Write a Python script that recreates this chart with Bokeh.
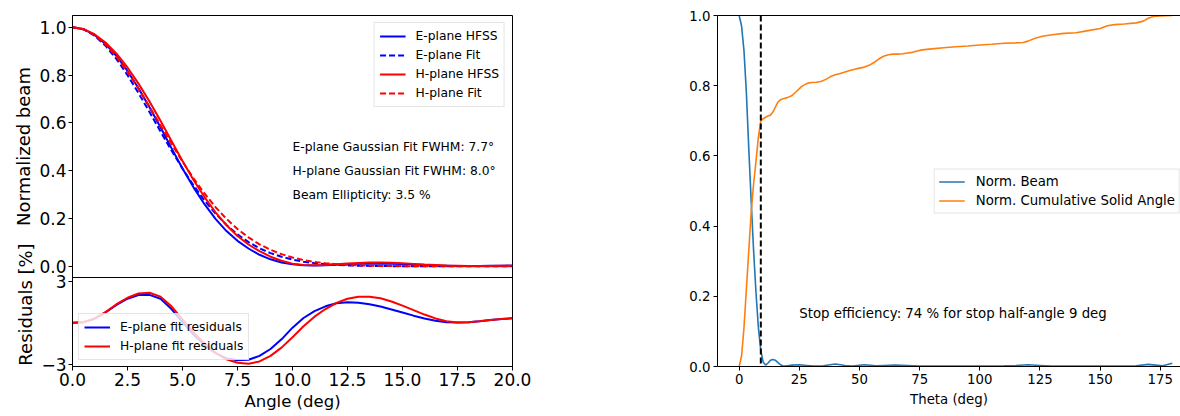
import math
from bokeh.plotting import figure
from bokeh.layouts import row
from bokeh.models import (Range1d, Legend, LegendItem, Label, Span, FixedTicker,
                          PrintfTickFormatter, LinearAxis, CustomJSTickFormatter)
from bokeh.embed import file_html
from bokeh.resources import INLINE

# ---------------- data ----------------
angle = [0.0, 0.5, 1.0, 1.5, 2.0, 2.5, 3.0, 3.5, 4.0, 4.5, 5.0, 5.5, 6.0, 6.5, 7.0,
         7.5, 8.0, 8.5, 9.0, 9.5, 10.0, 10.5, 11.0, 11.5, 12.0, 12.5, 13.0, 13.5,
         14.0, 14.5, 15.0, 15.5, 16.0, 16.5, 17.0, 17.5, 18.0, 18.5, 19.0, 19.5, 20.0]

e_hfss = [1.0, 0.9916, 0.9678, 0.9301, 0.8796, 0.8170, 0.7447, 0.6653, 0.5814, 0.4943,
          0.4091, 0.3301, 0.2596, 0.1983, 0.1472, 0.1063, 0.0743, 0.048, 0.029, 0.016,
          0.008, 0.004, 0.003, 0.004, 0.006, 0.008, 0.010, 0.011, 0.011, 0.010, 0.009,
          0.007, 0.005, 0.003, 0.002, 0.001, 0.001, 0.001, 0.002, 0.002, 0.003]

e_fit = [1.0, 0.9911, 0.9648, 0.9226, 0.8666, 0.7995, 0.7245, 0.6450, 0.5639, 0.4843,
         0.4086, 0.3386, 0.2756, 0.2203, 0.1730, 0.1335, 0.1011, 0.0753, 0.0550, 0.0395,
         0.0279, 0.0193, 0.0131, 0.0088, 0.0058, 0.0037, 0.0024, 0.0015, 0.0009, 0.0006,
         0.0003, 0.0002, 0.0001, 0.0001, 0.0, 0.0, 0.0, 0.0, 0.0, 0.0, 0.0]

h_hfss = [1.0, 0.9923, 0.9705, 0.9362, 0.8897, 0.8316, 0.7641, 0.6889, 0.6084, 0.5242,
          0.4403, 0.3610, 0.2894, 0.2258, 0.1716, 0.1269, 0.0910, 0.063, 0.040, 0.023,
          0.011, 0.005, 0.004, 0.005, 0.008, 0.012, 0.014, 0.016, 0.016, 0.015, 0.013,
          0.010, 0.007, 0.005, 0.003, 0.002, 0.001, 0.001, 0.001, 0.002, 0.002]

h_fit = [1.0, 0.9918, 0.9675, 0.9284, 0.8762, 0.8134, 0.7428, 0.6671, 0.5894, 0.5122,
         0.4378, 0.3680, 0.3044, 0.2476, 0.1981, 0.1559, 0.1207, 0.0919, 0.0688, 0.0507,
         0.0367, 0.0262, 0.0184, 0.0127, 0.0086, 0.0057, 0.0038, 0.0024, 0.0015, 0.0010,
         0.0006, 0.0004, 0.0002, 0.0001, 0.0001, 0.0, 0.0, 0.0, 0.0, 0.0, 0.0]

e_res = [0.0, 0.05, 0.3, 0.75, 1.3, 1.75, 2.02, 2.03, 1.75, 1.0, 0.05, -0.85, -1.6, -2.2,
         -2.58, -2.72, -2.68, -2.4, -1.9, -1.2, -0.35, 0.35, 0.85, 1.2, 1.42, 1.49, 1.46,
         1.35, 1.18, 0.97, 0.75, 0.52, 0.32, 0.15, 0.05, 0.02, 0.05, 0.12, 0.2, 0.27, 0.33]

h_res = [0.0, 0.05, 0.3, 0.78, 1.35, 1.82, 2.13, 2.18, 1.9, 1.2, 0.25, -0.7, -1.5, -2.18,
         -2.65, -2.9, -2.97, -2.8, -2.4, -1.8, -1.05, -0.25, 0.45, 1.0, 1.45, 1.75, 1.9,
         1.9, 1.78, 1.55, 1.25, 0.92, 0.6, 0.32, 0.12, 0.03, 0.05, 0.12, 0.2, 0.27, 0.33]

theta_beam = [0, 1, 2, 3, 4, 5, 6, 7, 8, 9, 10, 11, 12, 13, 14, 15, 16, 17, 18, 19, 20,
              22, 25, 28, 31, 35, 40, 44, 47, 52, 57, 60, 65, 70, 75, 80, 90, 100, 110,
              115, 120, 125, 130, 140, 150, 160, 165, 170, 173, 176, 180]
norm_beam = [1.0, 0.97, 0.90, 0.78, 0.62, 0.47, 0.33, 0.21, 0.11, 0.045, 0.012, 0.004,
             0.01, 0.018, 0.02, 0.018, 0.012, 0.006, 0.002, 0.001, 0.002,
             0.004, 0.005, 0.003, 0.001, 0.002, 0.007, 0.003, 0.001, 0.005, 0.002,
             0.003, 0.004, 0.003, 0.001, 0.001, 0.001, 0.001, 0.002, 0.003, 0.005,
             0.003, 0.001, 0.001, 0.001, 0.001, 0.002, 0.006, 0.004, 0.002, 0.009]

theta_cum = [0, 1, 2, 3, 4, 5, 6, 7, 8, 9, 10, 11, 12, 13, 14, 15, 16, 17, 18, 19, 20,
             22, 24, 26, 28, 30, 32, 34, 36, 38, 40, 42, 44, 46, 48, 50, 52, 54, 56, 58,
             60, 62, 64, 66, 68, 70, 72, 74, 76, 80, 85, 90, 95, 100, 105, 110, 115,
             118, 120, 123, 126, 130, 135, 140, 145, 150, 153, 156, 160, 165, 168, 170,
             172, 175, 180]
norm_cum = [0.0, 0.03, 0.11, 0.22, 0.33, 0.44, 0.52, 0.585, 0.655, 0.70, 0.706, 0.71,
            0.714, 0.716, 0.725, 0.738, 0.752, 0.759, 0.762, 0.764, 0.766,
            0.772, 0.785, 0.798, 0.806, 0.809, 0.810, 0.812, 0.818, 0.826, 0.831,
            0.835, 0.839, 0.843, 0.847, 0.850, 0.853, 0.858, 0.866, 0.876, 0.884,
            0.888, 0.890, 0.890, 0.891, 0.893, 0.895, 0.899, 0.902,
            0.905, 0.908, 0.911, 0.913, 0.916, 0.918, 0.921, 0.922,
            0.923, 0.927, 0.935, 0.941, 0.945, 0.949, 0.951, 0.957, 0.963,
            0.971, 0.974, 0.976, 0.979, 0.984, 0.992, 0.997, 0.999, 1.0]

stop_angle = 9
beam_yticks = [0.0, 0.2, 0.4, 0.6, 0.8, 1.0]
res_yticks = [-3, 3]
angle_xticks = [0.0, 2.5, 5.0, 7.5, 10.0, 12.5, 15.0, 17.5, 20.0]
theta_xticks = [0, 25, 50, 75, 100, 125, 150, 175]
frac_yticks = [0.0, 0.2, 0.4, 0.6, 0.8, 1.0]

FONT = "DejaVu Sans"

# ---------------- layout constants ----------------
H = 416                              # canvas height of every figure
TOP, BOTTOM = 15, 50                 # shared frame borders (row aligns frames)
MAIN_PX, RES_PX = 262, 89            # pixel heights of the two stacked panels
beam_lo, beam_hi = -0.047, 1.049     # visible range of the beam panel
res_lo, res_hi = -3.17, 3.29         # visible range of the residual panel
full_lo = beam_lo - (beam_hi - beam_lo) * RES_PX / MAIN_PX
res_full_hi = res_hi + (res_hi - res_lo) * MAIN_PX / RES_PX


def res_to_beam(r):
    return full_lo + (r - res_lo) / (res_full_hi - res_lo) * (beam_hi - full_lo)


def style_axis(ax, size, label_size=None):
    ax.axis_line_color = "black"
    ax.axis_line_width = 1
    ax.major_tick_line_color = "black"
    ax.major_tick_out = 4
    ax.major_tick_in = 0
    ax.minor_tick_line_color = None
    ax.major_label_text_font = FONT
    ax.major_label_text_font_size = size
    ax.major_label_text_color = "black"
    ax.axis_label_text_font = FONT
    ax.axis_label_text_font_style = "normal"
    ax.axis_label_text_font_size = label_size or size
    ax.axis_label_text_color = "black"


def style_legend(lg, size):
    lg.label_text_font = FONT
    lg.label_text_font_size = size
    lg.label_text_color = "black"
    lg.glyph_width = 26
    lg.glyph_height = 16
    lg.label_height = 16
    lg.label_standoff = 10
    lg.spacing = 3
    lg.padding = 5
    lg.border_line_color = "#cccccc"
    lg.border_line_width = 1
    lg.background_fill_color = "white"
    lg.background_fill_alpha = 0.8


# ---------------- strip holding the two left y-axis titles ----------------
# y coordinates of this strip are pixels measured up from the canvas bottom
lab = figure(width=36, height=H, x_range=Range1d(0, 36),
             y_range=Range1d(BOTTOM, H - TOP),
             x_axis_location=None, y_axis_location=None, output_backend="svg",
             toolbar_location=None, min_border_left=0, min_border_right=0,
             min_border_top=TOP, min_border_bottom=BOTTOM)
lab.outline_line_color = None
lab.grid.visible = False
lab.add_layout(Label(x=23, y=H - 146, text="Normalized beam", angle=math.pi / 2,
                     text_font=FONT, text_font_size="18px", text_color="black",
                     text_align="center", text_baseline="middle"))
lab.add_layout(Label(x=25, y=H - 304, text="Residuals [%]", angle=math.pi / 2,
                     text_font=FONT, text_font_size="18px", text_color="black",
                     text_align="center", text_baseline="middle"))

# ---------------- left: beam + residual panels in one frame ----------------
p = figure(width=506, height=H, x_range=Range1d(0, 20),
           y_range=Range1d(full_lo, beam_hi),
           output_backend="svg", toolbar_location=None,
           min_border_left=35, min_border_right=30, min_border_top=TOP,
           min_border_bottom=BOTTOM)
p.extra_y_ranges = {"res": Range1d(res_lo, res_full_hi)}
p.grid.visible = False
p.outline_line_color = "black"
p.outline_line_alpha = 1.0

style_axis(p.xaxis[0], "17px", "16.5px")
p.xaxis.axis_label = "Angle (deg)"
p.xaxis.ticker = FixedTicker(ticks=angle_xticks)
p.xaxis.formatter = PrintfTickFormatter(format="%.1f")
p.xaxis.major_label_standoff = 2
p.xaxis.axis_label_standoff = 3

style_axis(p.yaxis[0], "17px")
p.yaxis.ticker = FixedTicker(ticks=beam_yticks + [res_to_beam(r) for r in res_yticks])
p.yaxis.formatter = CustomJSTickFormatter(
    args=dict(split=beam_lo, flo=full_lo, fhi=beam_hi, rlo=res_lo, rhi=res_full_hi),
    code="""
    if (tick > split) { return tick.toFixed(1); }
    const r = rlo + (tick - flo) / (fhi - flo) * (rhi - rlo);
    const n = Math.round(r);
    return (n < 0 ? "\\u2212" : "") + Math.abs(n);
    """)
p.yaxis.major_label_standoff = 2

# separator between the beam panel and the residual panel
p.add_layout(Span(location=beam_lo, dimension="width", line_color="black",
                  line_width=1))

r1 = p.line(angle, e_hfss, line_color="blue", line_width=2)
r2 = p.line(angle, e_fit, line_color="blue", line_width=2, line_dash="6 3")
r3 = p.line(angle, h_hfss, line_color="red", line_width=2)
r4 = p.line(angle, h_fit, line_color="red", line_width=2, line_dash="6 3")

q1 = p.line(angle, e_res, line_color="blue", line_width=2, y_range_name="res")
q2 = p.line(angle, h_res, line_color="red", line_width=2, y_range_name="res")

lg1 = Legend(items=[LegendItem(label="E-plane HFSS", renderers=[r1]),
                    LegendItem(label="E-plane Fit", renderers=[r2]),
                    LegendItem(label="H-plane HFSS", renderers=[r3]),
                    LegendItem(label="H-plane Fit", renderers=[r4])],
             location="top_right")
style_legend(lg1, "12.3px")
lg1.margin = 7
p.add_layout(lg1)

lg2 = Legend(items=[LegendItem(label="E-plane fit residuals", renderers=[q1]),
                    LegendItem(label="H-plane fit residuals", renderers=[q2])],
             location="bottom_left")
style_legend(lg2, "12.3px")
lg2.margin = 6
p.add_layout(lg2)

for yy, txt in [(0.5, "E-plane Gaussian Fit FWHM: 7.7°"),
                (0.4, "H-plane Gaussian Fit FWHM: 8.0°"),
                (0.3, "Beam Ellipticity: 3.5 %")]:
    p.add_layout(Label(x=10, y=yy, text=txt, text_font=FONT,
                       text_font_size="12.3px", text_color="black",
                       text_baseline="alphabetic", text_align="left"))

# ---------------- right: solid angle panel ----------------
p_r = figure(width=638, height=H, x_range=Range1d(-9, 183.4),
             y_range=Range1d(0, 1), output_backend="svg", toolbar_location=None,
             min_border_left=175, min_border_right=0, min_border_top=TOP,
             min_border_bottom=BOTTOM)
p_r.grid.visible = False
p_r.outline_line_color = None
style_axis(p_r.xaxis[0], "13.3px")
style_axis(p_r.yaxis[0], "13.3px")
p_r.xaxis.axis_label = "Theta (deg)"
p_r.xaxis.ticker = FixedTicker(ticks=theta_xticks)
p_r.xaxis.major_label_standoff = 3
p_r.xaxis.axis_label_standoff = 5
p_r.yaxis.ticker = FixedTicker(ticks=frac_yticks)
p_r.yaxis.formatter = PrintfTickFormatter(format="%.1f")
p_r.yaxis.major_label_standoff = 3

top_axis = LinearAxis(ticker=FixedTicker(ticks=[]), axis_line_color="black",
                      major_tick_out=0, major_tick_in=0,
                      minor_tick_line_color=None, major_label_text_font_size="0px")
p_r.add_layout(top_axis, "above")

b1 = p_r.line(theta_beam, norm_beam, line_color="#1f77b4", line_width=1.6)
b2 = p_r.line(theta_cum, norm_cum, line_color="#ff7f0e", line_width=1.6)
p_r.add_layout(Span(location=stop_angle, dimension="height", line_color="black",
                    line_dash="6 3", line_width=2))

lg3 = Legend(items=[LegendItem(label="Norm. Beam", renderers=[b1]),
                    LegendItem(label="Norm. Cumulative Solid Angle", renderers=[b2])],
             location="right")
style_legend(lg3, "13.3px")
lg3.padding = 4
lg3.margin = 0
lg3.label_standoff = 11
p_r.add_layout(lg3)

p_r.add_layout(Label(x=25, y=0.15,
                     text="Stop efficiency: 74 % for stop half-angle 9 deg",
                     text_font=FONT, text_font_size="13.3px", text_color="black",
                     text_baseline="alphabetic", text_align="left"))

layout = row(lab, p, p_r)

open("out.html", "w").write(file_html(layout, INLINE))
